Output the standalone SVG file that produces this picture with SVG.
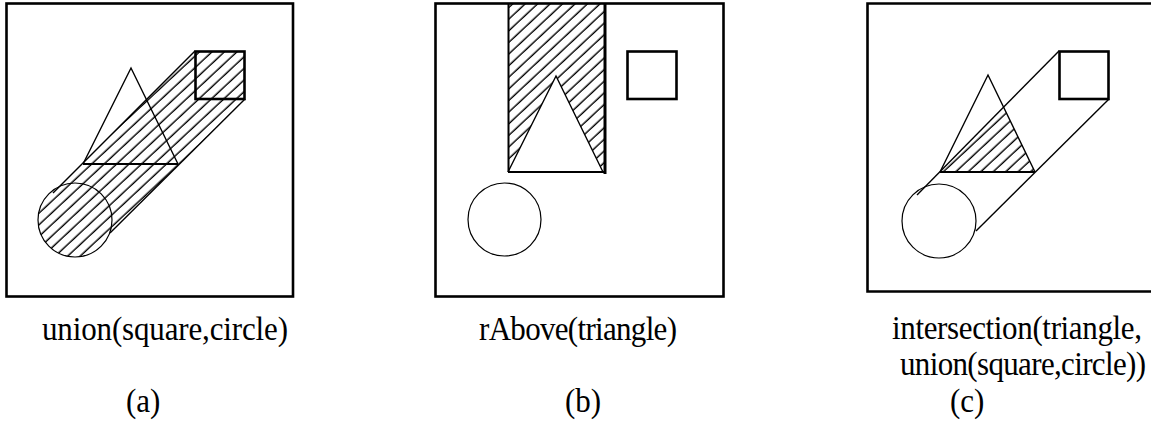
<svg xmlns="http://www.w3.org/2000/svg" width="1151" height="423" viewBox="0 0 1151 423">
<style>
.frame{fill:none;stroke:#000;stroke-width:2.6}
.sq{fill:none;stroke:#000;stroke-width:2.6}
.tri{fill:none;stroke:#000;stroke-width:1.4;stroke-linejoin:miter}
.base{stroke:#000;stroke-width:2.2}
.circ{fill:none;stroke:#000;stroke-width:1.2}
.band{stroke:#000;stroke-width:1.4}
.lbl{font-family:"Liberation Serif","DejaVu Serif",serif;font-size:31px;fill:#000}
</style>
<defs>
<pattern id="hatch" patternUnits="userSpaceOnUse" width="10" height="8.5" patternTransform="rotate(-43)">
<line x1="-1" y1="4" x2="11" y2="4" stroke="#000" stroke-width="1.4"/>
</pattern>
<clipPath id="clipA">
<circle cx="75" cy="220" r="37"/>
<polygon points="53,193 195,51 245,51 245,99 110,233 75,220"/>
</clipPath>
</defs>
<g id="panel-a">
<rect class="frame" x="6.5" y="3.5" width="286.5" height="293"/>
<rect x="0" y="0" width="300" height="300" fill="url(#hatch)" clip-path="url(#clipA)"/>
<circle class="circ" cx="75" cy="220" r="37"/>
<line class="band" x1="53" y1="193" x2="195" y2="51"/>
<line class="band" x1="110" y1="233" x2="245" y2="99"/>
<polyline class="tri" points="83,164 131,68 178,164"/>
<line class="base" x1="83" y1="164" x2="178" y2="164"/>
<rect class="sq" x="195.5" y="51.5" width="49" height="47.5"/>
</g>
<g id="panel-b">
<rect class="frame" x="435.5" y="3.5" width="288" height="293"/>
<path d="M508,3 H605 V172 H508 Z M508,172 L556,76 L603,172 Z" fill="url(#hatch)" fill-rule="evenodd"/>
<line x1="508.5" y1="3" x2="508.5" y2="172" stroke="#000" stroke-width="2"/>
<line x1="605" y1="3" x2="605" y2="174" stroke="#000" stroke-width="3"/>
<polyline class="tri" points="508,172 556,76 603,172"/>
<line class="base" x1="508" y1="172" x2="604" y2="172"/>
<rect class="sq" x="627.5" y="51.5" width="49" height="47.5"/>
<circle class="circ" cx="504.5" cy="219.5" r="36.5"/>
</g>
<g id="panel-c">
<path class="frame" d="M1152,3.5 H867.5 V291.5 H1152"/>
<polygon points="940,172 1035,172 1003.3,106.6" fill="url(#hatch)"/>
<circle class="circ" cx="939" cy="221" r="37"/>
<line class="band" x1="917" y1="195" x2="1059" y2="51"/>
<line class="band" x1="976" y1="231" x2="1109" y2="99"/>
<polyline class="tri" points="940,172 988,75 1035,172"/>
<line class="base" x1="940" y1="172" x2="1035" y2="172"/>
<rect class="sq" x="1059.5" y="51.5" width="49" height="47.5"/>
</g>
<g id="labels">
<text class="lbl" transform="translate(42,340) scale(1,1.1)" textLength="246">union(square,circle)</text>
<text class="lbl" transform="translate(479,340) scale(1,1.1)" textLength="198">rAbove(triangle)</text>
<text class="lbl" transform="translate(892,339) scale(1,1.1)" textLength="250">intersection(triangle,</text>
<text class="lbl" transform="translate(900,375) scale(1,1.1)" textLength="246">union(square,circle))</text>
<text class="lbl" transform="translate(126,412) scale(1,1.1)">(a)</text>
<text class="lbl" transform="translate(565,412) scale(1,1.1)">(b)</text>
<text class="lbl" transform="translate(950,412) scale(1,1.1)">(c)</text>
</g>
</svg>
